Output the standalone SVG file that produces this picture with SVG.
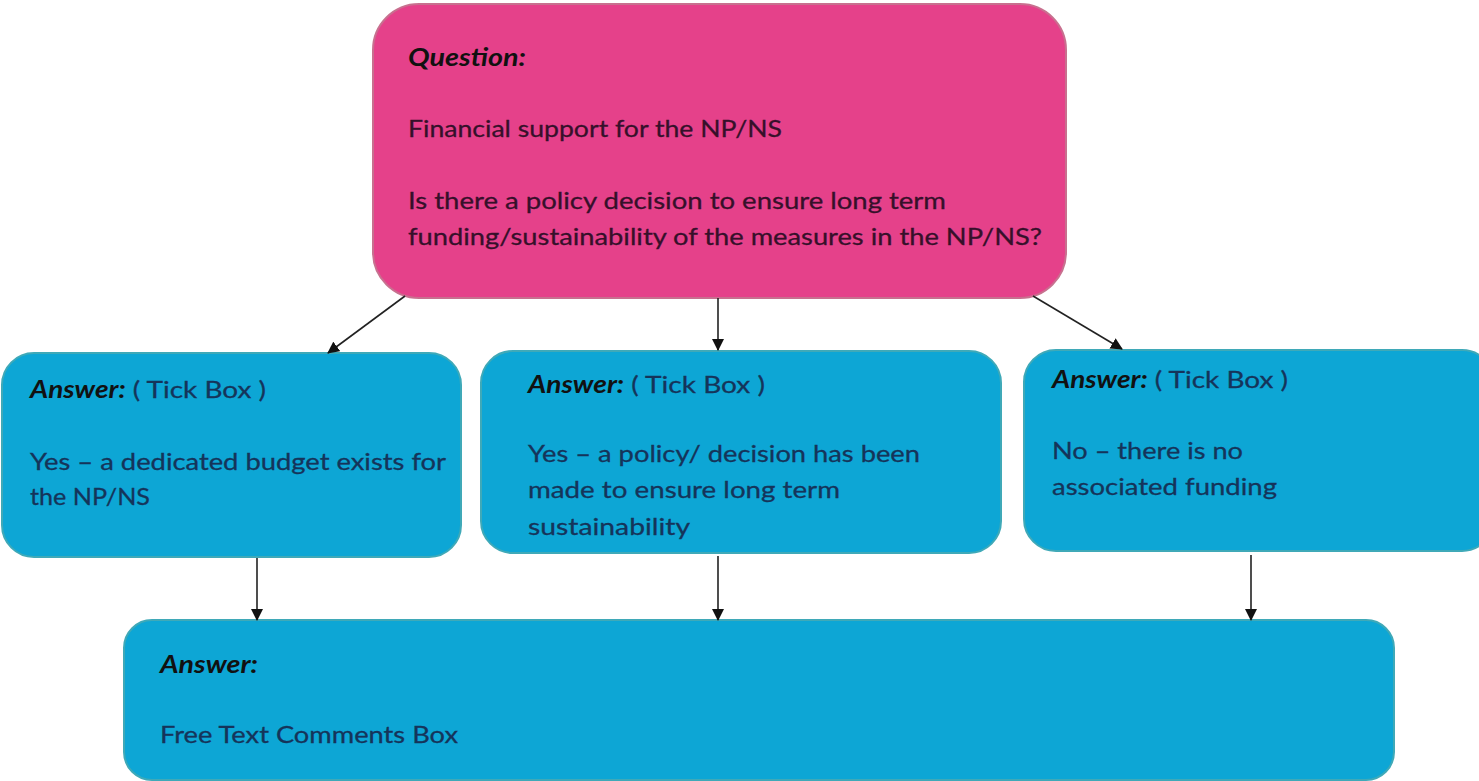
<svg xmlns="http://www.w3.org/2000/svg" width="1479" height="781" viewBox="0 0 1479 781">
<style>
.q{fill:#E5418A;stroke:#C8708F;stroke-width:2}
.a{fill:#0DA6D5;stroke:#3FA9B8;stroke-width:2}
text{font-family:Lato,"Liberation Sans",sans-serif;font-size:24px}
.tq{fill:#36102A;stroke:#36102A;stroke-width:0.3}
.ta{fill:#15345A;stroke:#15345A;stroke-width:0.3}
.lbl{font-weight:bold;font-style:italic;fill:#111;stroke:none}
.con line{stroke:#222;stroke-width:1.6}
</style>
<defs>
<marker id="ah" viewBox="0 0 12 12" refX="11" refY="6" markerWidth="12" markerHeight="12" markerUnits="userSpaceOnUse" orient="auto">
<path d="M0,0 L12,6 L0,12 Z" fill="#111"/>
</marker>
</defs>
<g id="question">
<rect class="q" x="373" y="4" width="693" height="294" rx="46"/>
<text class="lbl" x="408" y="66" textLength="118" lengthAdjust="spacingAndGlyphs">Question:</text>
<text class="tq" x="408" y="137" textLength="374" lengthAdjust="spacingAndGlyphs">Financial support for the NP/NS</text>
<text class="tq" x="408" y="209" textLength="538" lengthAdjust="spacingAndGlyphs">Is there a policy decision to ensure long term</text>
<text class="tq" x="408" y="245" textLength="634" lengthAdjust="spacingAndGlyphs">funding/sustainability of the measures in the NP/NS?</text>
</g>
<g id="answer1">
<rect class="a" x="2" y="353" width="459" height="204" rx="32"/>
<text class="ta" x="30" y="398" textLength="236" lengthAdjust="spacingAndGlyphs"><tspan class="lbl">Answer:</tspan> ( Tick Box )</text>
<text class="ta" x="30" y="470" textLength="416" lengthAdjust="spacingAndGlyphs">Yes – a dedicated budget exists for</text>
<text class="ta" x="30" y="505" textLength="120" lengthAdjust="spacingAndGlyphs">the NP/NS</text>
</g>
<g id="answer2">
<rect class="a" x="481" y="351" width="520" height="202" rx="32"/>
<text class="ta" x="528" y="393" textLength="237" lengthAdjust="spacingAndGlyphs"><tspan class="lbl">Answer:</tspan> ( Tick Box )</text>
<text class="ta" x="528" y="462" textLength="392" lengthAdjust="spacingAndGlyphs">Yes – a policy/ decision has been</text>
<text class="ta" x="528" y="498" textLength="312" lengthAdjust="spacingAndGlyphs">made to ensure long term</text>
<text class="ta" x="528" y="535" textLength="162" lengthAdjust="spacingAndGlyphs">sustainability</text>
</g>
<g id="answer3">
<rect class="a" x="1024" y="350" width="470" height="201" rx="32"/>
<text class="ta" x="1052" y="388" textLength="236" lengthAdjust="spacingAndGlyphs"><tspan class="lbl">Answer:</tspan> ( Tick Box )</text>
<text class="ta" x="1052" y="459" textLength="191" lengthAdjust="spacingAndGlyphs">No – there is no</text>
<text class="ta" x="1052" y="495" textLength="225" lengthAdjust="spacingAndGlyphs">associated funding</text>
</g>
<g id="comments">
<rect class="a" x="124" y="620" width="1270" height="160" rx="28"/>
<text class="lbl" x="160" y="673" textLength="98" lengthAdjust="spacingAndGlyphs">Answer:</text>
<text class="ta" x="160" y="743" textLength="298" lengthAdjust="spacingAndGlyphs">Free Text Comments Box</text>
</g>
<g id="connectors" class="con">
<line x1="405" y1="296" x2="328" y2="353" marker-end="url(#ah)"/>
<line x1="718" y1="298" x2="718" y2="350" marker-end="url(#ah)"/>
<line x1="1033" y1="296" x2="1122" y2="349" marker-end="url(#ah)"/>
<line x1="257" y1="558" x2="257" y2="620" marker-end="url(#ah)"/>
<line x1="718" y1="556" x2="718" y2="620" marker-end="url(#ah)"/>
<line x1="1251" y1="555" x2="1251" y2="620" marker-end="url(#ah)"/>
</g>
</svg>
